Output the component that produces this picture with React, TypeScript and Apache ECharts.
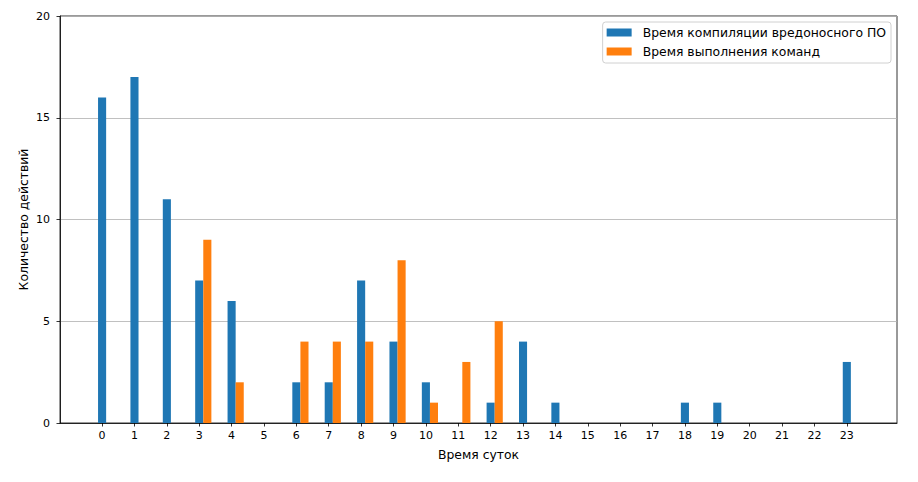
import React, { useEffect, useRef } from "react";
import * as echarts from "echarts";

const hours = Array.from({ length: 24 }, (_, i) => i);
const compileCounts = [16, 17, 11, 7, 6, 0, 2, 2, 7, 4, 2, 0, 1, 4, 1, 0, 0, 0, 1, 1, 0, 0, 0, 3];
const execCounts = [0, 0, 0, 9, 2, 0, 4, 4, 4, 8, 1, 3, 5, 0, 0, 0, 0, 0, 0, 0, 0, 0, 0, 0];
const seriesNames = ["Время компиляции вредоносного ПО", "Время выполнения команд"];
const yTicks = [0, 5, 10, 15, 20];

const FONT = "DejaVu Sans";
const BAR_W = 0.25;

function makeRender(offset: number, color: string) {
  return (params: any, api: any) => {
    const x = api.value(0);
    const y = api.value(1);
    if (!y) return null;
    const p1 = api.coord([x + offset - BAR_W / 2, y]);
    const p2 = api.coord([x + offset + BAR_W / 2, 0]);
    return {
      type: "rect",
      shape: { x: p1[0], y: p1[1], width: p2[0] - p1[0], height: p2[1] - p1[1] },
      style: { fill: color },
    };
  };
}

export default function App() {
  const ref = useRef<HTMLDivElement>(null);
  useEffect(() => {
    document.body.style.margin = "0";
    const chart = echarts.init(ref.current!, null, { renderer: "svg" });
    const colors = ["#1f77b4", "#ff7f0e"];
    chart.setOption({
      animation: false,
      textStyle: { fontFamily: FONT },
      grid: {
        left: 60,
        right: 21,
        top: 16,
        bottom: 59,
        show: true,
        borderColor: "#000",
        borderWidth: 0.8,
        backgroundColor: "transparent",
      },
      legend: {
        show: true,
        orient: "vertical",
        right: 27,
        top: 22,
        padding: [4, 5, 5, 4],
        itemWidth: 25,
        itemHeight: 8,
        itemGap: 6,
        icon: "rect",
        borderColor: "#d0d0d0",
        borderWidth: 1,
        borderRadius: 3,
        backgroundColor: "rgba(255,255,255,0.8)",
        textStyle: { fontFamily: FONT, fontSize: 12.4, lineHeight: 13, color: "#000", padding: [0, 0, 0, 6] },
        data: seriesNames.map((n, i) => ({ name: n, itemStyle: { color: colors[i] } })),
      },
      xAxis: {
        type: "value",
        min: -1.3,
        max: 24.55,
        name: "Время суток",
        nameLocation: "middle",
        nameGap: 25,
        nameMoveOverlap: false,
        nameTextStyle: { fontFamily: FONT, fontSize: 12.4, color: "#000" },
        axisLine: { show: true, onZero: false, lineStyle: { color: "#000", width: 0.8 } },
        axisTick: { show: true, customValues: hours, length: 3.5, lineStyle: { color: "#000", width: 0.8 } },
        axisLabel: { customValues: hours, fontFamily: FONT, fontSize: 11, color: "#000", margin: 7 },
        splitLine: { show: false },
      },
      yAxis: {
        type: "value",
        min: 0,
        max: 20,
        interval: 5,
        name: "Количество действий",
        nameLocation: "middle",
        nameGap: 31,
        nameMoveOverlap: false,
        nameTextStyle: { fontFamily: FONT, fontSize: 12.4, color: "#000" },
        axisLine: { show: true, onZero: false, lineStyle: { color: "#000", width: 0.8 } },
        axisTick: { show: true, length: 3.5, lineStyle: { color: "#000", width: 0.8 } },
        axisLabel: { fontFamily: FONT, fontSize: 11, color: "#000", margin: 10, customValues: yTicks },
        splitLine: { show: true, lineStyle: { color: "#b0b0b0", width: 0.8 } },
      },
      series: [
        {
          name: seriesNames[0],
          type: "custom",
          color: colors[0],
          renderItem: makeRender(0, colors[0]),
          encode: { x: 0, y: 1 },
          data: hours.map((h, i) => [h, compileCounts[i]]),
        },
        {
          name: seriesNames[1],
          type: "custom",
          color: colors[1],
          renderItem: makeRender(BAR_W, colors[1]),
          encode: { x: 0, y: 1 },
          data: hours.map((h, i) => [h, execCounts[i]]),
        },
      ],
    });
    return () => chart.dispose();
  }, []);
  return <div ref={ref} style={{ width: 918, height: 482, position: "absolute", left: 0, top: 0 }} />;
}
